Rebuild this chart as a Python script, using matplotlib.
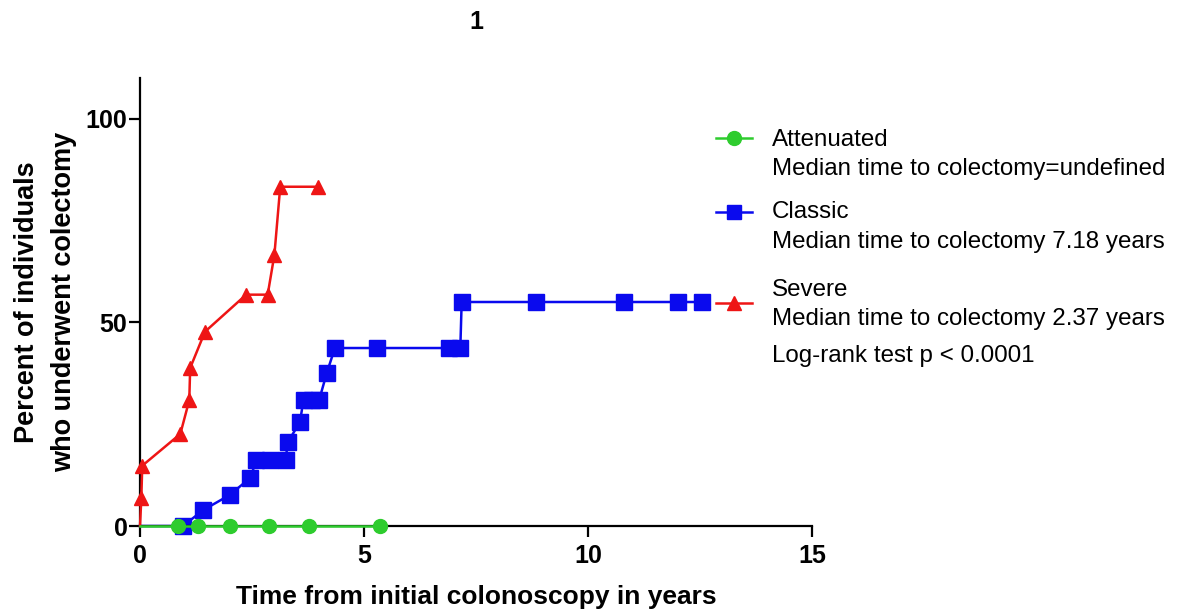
import matplotlib
matplotlib.use("Agg")
import matplotlib.pyplot as plt
from matplotlib.lines import Line2D

plt.rcParams['font.family'] = ['Liberation Sans', 'DejaVu Sans']

# values (years, percent)
atten_x = [0.85, 1.3, 2.0, 2.88, 3.77, 5.36]
atten_y = [0, 0, 0, 0, 0, 0]

classic_x = [0.96, 1.41, 2.0, 2.46, 2.6, 2.9, 3.25, 3.3, 3.57, 3.65, 3.85, 4.0,
             4.17, 4.35, 5.3, 6.9, 7.15, 7.18, 8.85, 10.8, 12.0, 12.55]
classic_y = [0, 3.9, 7.6, 11.8, 16.2, 16.2, 16.2, 20.6, 25.5, 31, 31, 31,
             37.6, 43.7, 43.7, 43.7, 43.7, 55, 55, 55, 55, 55]

severe_x = [0.03, 0.05, 0.9, 1.1, 1.12, 1.45, 2.37, 2.85, 3.0, 3.13, 3.97]
severe_y = [6.9, 14.8, 22.6, 30.9, 38.8, 47.7, 56.8, 56.8, 66.6, 83.3, 83.3]

names = ['Attenuated', 'Classic', 'Severe']
medians = ['Median time to colectomy=undefined',
           'Median time to colectomy 7.18 years',
           'Median time to colectomy 2.37 years']
logrank = 'Log-rank test p < 0.0001'

green = '#2ecc2e'
blue = '#0a0aee'
red = '#ee1515'

W, H = 1179, 613
fig = plt.figure(figsize=(W / 100, H / 100), dpi=100)
ax = fig.add_axes([140 / W, 1 - 526 / H, 672 / W, 448 / H])

series = [
    (classic_x, classic_y, blue, 's', 11, 2),
    (severe_x, severe_y, red, '^', 10, 3),
    (atten_x, atten_y, green, 'o', 10, 4),
]
for xs, ys, col, mk, ms, z in series:
    # curves start at the origin, no marker there
    ax.plot([0] + xs, [0] + ys, color=col, lw=1.8, zorder=z, clip_on=False)
    ax.plot(xs, ys, ls='none', marker=mk, ms=ms, color=col, zorder=z, clip_on=False)

ax.set_xlim(0, 15)
ax.set_ylim(0, 110)
ax.set_xticks([0, 5, 10, 15])
ax.set_yticks([0, 50, 100])
for s in ['top', 'right']:
    ax.spines[s].set_visible(False)
for s in ['left', 'bottom']:
    ax.spines[s].set_linewidth(1.6)
ax.tick_params(direction='out', length=8, width=1.6, labelsize=18)
ax.tick_params(axis='x', pad=5)
ax.tick_params(axis='y', pad=1)
for lab in ax.get_xticklabels() + ax.get_yticklabels():
    lab.set_fontweight('bold')

ax.set_xlabel('Time from initial colonoscopy in years', fontsize=19,
              fontweight='bold', labelpad=12)
ax.set_ylabel('Percent of individuals\nwho underwent colectomy', fontsize=19.5,
              fontweight='bold', labelpad=6, linespacing=1.55)
fig.text(476 / W, 1 - 22 / H, '1', fontsize=18, fontweight='bold',
         ha='center', va='center')

# legend drawn by hand: marker beside the name, median below
name_base = [146, 218, 296]
med_base = [175, 248, 325]
mark_y = [138, 212, 303]
leg_cols = [green, blue, red]
leg_marks = ['o', 's', '^']
for i in range(3):
    yy = 1 - mark_y[i] / H
    fig.add_artist(Line2D([716 / W, 752 / W], [yy, yy], color=leg_cols[i], lw=1.8))
    fig.add_artist(Line2D([734 / W], [yy], color=leg_cols[i], ls='none',
                          marker=leg_marks[i], ms=10))
    fig.text(772 / W, 1 - name_base[i] / H, names[i], fontsize=17.4,
             va='baseline', ha='left')
    fig.text(772 / W, 1 - med_base[i] / H, medians[i], fontsize=17.4,
             va='baseline', ha='left')
fig.text(772 / W, 1 - 362 / H, logrank, fontsize=17.4, va='baseline', ha='left')

fig.savefig('out.png', dpi=100)
